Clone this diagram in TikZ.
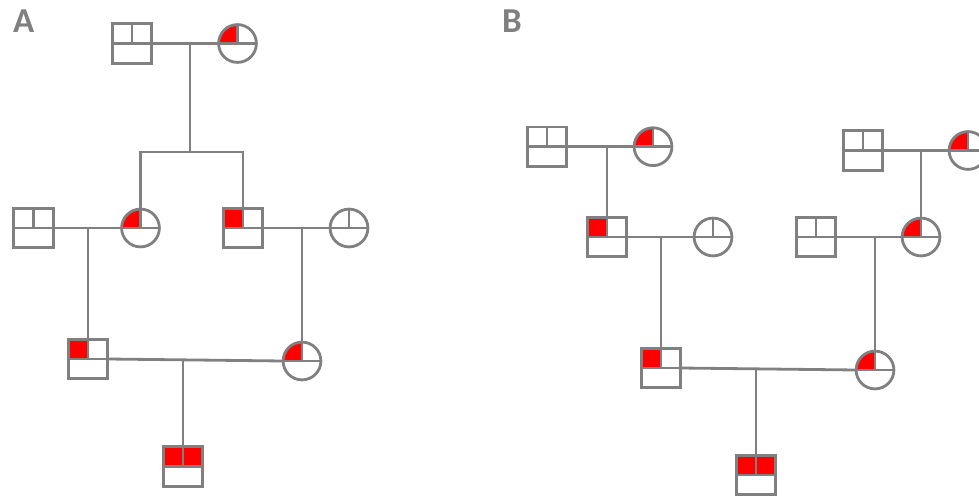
\documentclass[tikz,border=0pt]{standalone}
\usepackage{fontspec}
\newfontfamily\labfont{Carlito}
\definecolor{gc}{RGB}{128,128,128}
\newcommand{\qTL}{\fill[red] (path picture bounding box.north west) rectangle (path picture bounding box.center);}
\newcommand{\qTR}{\fill[red] (path picture bounding box.north east) rectangle (path picture bounding box.center);}
\tikzset{
  sym/.style={draw=gc, line width=2.8pt, inner sep=0pt, outer sep=0pt, fill=white},
  male/.style={sym, rectangle, minimum width=39.3pt, minimum height=39.3pt,
    path picture={#1\draw[gc, line width=2.8pt] (path picture bounding box.west) -- (path picture bounding box.east)
      (path picture bounding box.north) -- (path picture bounding box.center);}},
  male/.default={},
  female/.style={sym, circle, minimum size=37.8pt,
    path picture={#1\draw[gc, line width=2.8pt] (path picture bounding box.west) -- (path picture bounding box.east)
      (path picture bounding box.north) -- (path picture bounding box.center);}},
  female/.default={},
  conn/.style={draw=gc, line width=2.8pt},
  lab/.style={text=gc, anchor=base west, inner sep=0pt, font=\labfont\bfseries\fontsize{35}{40}\selectfont}
}
\begin{document}
\begin{tikzpicture}[x=1pt,y=1pt]
\clip (0,0) rectangle (979,-497);
\useasboundingbox (0,0) rectangle (979,-497);
% labels
\node[lab] (la) at (13,-33) {A};
\node[lab] (lb) at (502,-33) {B};
% ---------- Panel A ----------
\node[male] (s1) at (132,-43.5) {};
\node[female=\qTL] (c1) at (237.5,-43.5) {};
\coordinate (m1) at (190,-43.5);
\coordinate (j1) at (190,-152);
\node[male] (s2) at (33.5,-228) {};
\node[female=\qTL] (c2) at (140.5,-228) {};
\node[male=\qTL] (s3) at (243,-228) {};
\node[female] (c3) at (349,-228) {};
\coordinate (m2) at (88,-228);
\coordinate (m3) at (302,-228);
\node[male=\qTL] (s4) at (88,-359) {};
\node[female=\qTL] (c4) at (302,-361) {};
\coordinate (m4) at (183,-360);
\node[male=\qTL\qTR] (s5) at (183,-466.5) {};
\draw[conn] (s1.east) -- (c1.west);
\draw[conn] (m1) -- (j1);
\draw[conn] (c2.north) |- (j1) -| (s3.north);
\draw[conn] (s2.east) -- (c2.west);
\draw[conn] (s3.east) -- (c3.west);
\draw[conn] (m2) -- (s4.north);
\draw[conn] (m3) -- (c4.north);
\draw[conn] (s4.east) -- (c4.west);
\draw[conn] (m4) -- (s5.north);
% ---------- Panel B ----------
\node[male] (s6) at (547,-146.7) {};
\node[female=\qTL] (c6) at (653,-146.7) {};
\coordinate (m6) at (607,-146.7);
\node[male=\qTL] (s7) at (607,-237) {};
\node[female] (c7) at (713,-237) {};
\coordinate (m7) at (661,-237);
\node[male] (s8) at (863,-150.5) {};
\node[female=\qTL] (c8) at (968,-150.5) {};
\coordinate (m8) at (921,-150.5);
\node[male] (s9) at (816,-237) {};
\node[female=\qTL] (c9) at (921,-237) {};
\coordinate (m9) at (875,-237);
\node[male=\qTL] (s10) at (661,-368) {};
\node[female=\qTL] (c10) at (875,-370) {};
\coordinate (m10) at (756,-369);
\node[male=\qTL\qTR] (s11) at (756,-475) {};
\draw[conn] (s6.east) -- (c6.west);
\draw[conn] (m6) -- (s7.north);
\draw[conn] (s7.east) -- (c7.west);
\draw[conn] (m7) -- (s10.north);
\draw[conn] (s8.east) -- (c8.west);
\draw[conn] (m8) -- (c9.north);
\draw[conn] (s9.east) -- (c9.west);
\draw[conn] (m9) -- (c10.north);
\draw[conn] (s10.east) -- (c10.west);
\draw[conn] (m10) -- (s11.north);
\end{tikzpicture}
\end{document}
